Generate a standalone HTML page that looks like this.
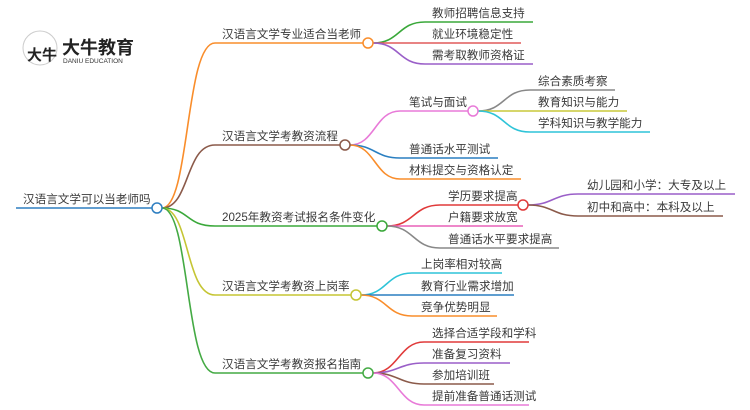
<!DOCTYPE html>
<html><head><meta charset="utf-8"><style>
html,body{margin:0;padding:0;background:#fff;}
svg{display:block;}
text{font-family:"Liberation Sans","Noto Sans CJK SC",sans-serif;font-size:11.6px;fill:#3a3a3a;}
path{fill:none;stroke-width:1.6;}
circle.n{fill:#fff;stroke-width:1.5;}
</style></head><body>
<svg width="750" height="410" viewBox="0 0 750 410" xmlns="http://www.w3.org/2000/svg">
<!-- logo -->
<circle cx="40" cy="48" r="17" fill="#fff" stroke="#ccc" stroke-width="1"/>
<path d="M25 40 A17 17 0 0 1 55 40 Z" fill="#d9262c" stroke="none"/>
<text x="27" y="60" style="font-size:15px;font-weight:bold;fill:#222">大牛</text>
<text x="62" y="54" style="font-size:18px;font-weight:bold;fill:#222">大牛教育</text>
<text x="63" y="63" style="font-size:6.5px;fill:#333">DANIU EDUCATION</text>

<!-- root -->
<path d="M16 208 L152 208" stroke="#2f7fc1"/>
<text x="23" y="203">汉语言文学可以当老师吗</text>

<!-- level1 -->
<path d="M162 208 C190 208 185 43 215 43 L363 43" stroke="#f98d2b"/>
<path d="M162 208 C190 208 185 145 215 145 L340 145" stroke="#8b5a4a"/>
<path d="M162 208 C190 208 185 226 215 226 L377 226" stroke="#3aa83a"/>
<path d="M162 208 C190 208 185 295 215 295 L351 295" stroke="#c5c534"/>
<path d="M162 208 C190 208 185 373 215 373 L363 373" stroke="#44aa44"/>
<text x="222" y="38">汉语言文学专业适合当老师</text>
<text x="222" y="140">汉语言文学考教资流程</text>
<text x="222" y="221">2025年教资考试报名条件变化</text>
<text x="222" y="290">汉语言文学考教资上岗率</text>
<text x="222" y="368">汉语言文学考教资报名指南</text>

<!-- node1 children -->
<path d="M373 43 C400 43 398 22 425 22 L533 22" stroke="#3aa83a"/>
<path d="M373 43 L521 43" stroke="#e05a5a"/>
<path d="M373 43 C400 43 398 64 425 64 L533 64" stroke="#9a5fc8"/>
<text x="432" y="17">教师招聘信息支持</text>
<text x="432" y="38">就业环境稳定性</text>
<text x="432" y="59">需考取教师资格证</text>

<!-- node2 children -->
<path d="M350 145 C375 145 375 111 400 111 L468 111" stroke="#e87ad8"/>
<path d="M350 145 C375 145 375 158 400 158 L498 158" stroke="#2a7fc1"/>
<path d="M350 145 C375 145 375 179 400 179 L521 179" stroke="#f98d2b"/>
<text x="409" y="106">笔试与面试</text>
<text x="409" y="153">普通话水平测试</text>
<text x="409" y="174">材料提交与资格认定</text>
<path d="M478 111 C505 111 503 90 530 90 L615 90" stroke="#888"/>
<path d="M478 111 L627 111" stroke="#c8c83a"/>
<path d="M478 111 C505 111 503 132 530 132 L650 132" stroke="#2fc4d8"/>
<text x="538" y="85">综合素质考察</text>
<text x="538" y="106">教育知识与能力</text>
<text x="538" y="127">学科知识与教学能力</text>

<!-- node3 children -->
<path d="M387 226 C414 226 413 205 440 205 L518 205" stroke="#e03a3a"/>
<path d="M387 226 L523 226" stroke="#e860b8"/>
<path d="M387 226 C414 226 413 248 440 248 L559 248" stroke="#888"/>
<text x="448" y="200">学历要求提高</text>
<text x="448" y="221">户籍要求放宽</text>
<text x="448" y="243">普通话水平要求提高</text>
<path d="M528 205 C553 205 553 194 578 194 L735 194" stroke="#9a5fc8"/>
<path d="M528 205 C553 205 553 216 578 216 L723 216" stroke="#8b5a4a"/>
<text x="587" y="189">幼儿园和小学：大专及以上</text>
<text x="587" y="211">初中和高中：本科及以上</text>

<!-- node4 children -->
<path d="M361 295 C387 295 386 273 412 273 L502 273" stroke="#2fc4d8"/>
<path d="M361 295 L514 295" stroke="#2a7fc1"/>
<path d="M361 295 C387 295 386 316 412 316 L497 316" stroke="#f98d2b"/>
<text x="421" y="268">上岗率相对较高</text>
<text x="421" y="290">教育行业需求增加</text>
<text x="421" y="311">竞争优势明显</text>

<!-- node5 children -->
<path d="M373 373 C398 373 399 342 424 342 L529 342" stroke="#e03a3a"/>
<path d="M373 373 C398 373 399 363 424 363 L510 363" stroke="#9a5fc8"/>
<path d="M373 373 C398 373 399 384 424 384 L494 384" stroke="#8b5a4a"/>
<path d="M373 373 C398 373 399 405 424 405 L529 405" stroke="#e87ad8"/>
<text x="432" y="337">选择合适学段和学科</text>
<text x="432" y="358">准备复习资料</text>
<text x="432" y="379">参加培训班</text>
<text x="432" y="400">提前准备普通话测试</text>

<!-- circles -->
<circle class="n" cx="157" cy="208" r="5" stroke="#2f7fc1"/>
<circle class="n" cx="368" cy="43" r="5" stroke="#f98d2b"/>
<circle class="n" cx="345" cy="145" r="5" stroke="#8b5a4a"/>
<circle class="n" cx="382" cy="226" r="5" stroke="#3aa83a"/>
<circle class="n" cx="356" cy="295" r="5" stroke="#c5c534"/>
<circle class="n" cx="368" cy="373" r="5" stroke="#44aa44"/>
<circle class="n" cx="473" cy="111" r="5" stroke="#e87ad8"/>
<circle class="n" cx="523" cy="205" r="5" stroke="#e03a3a"/>
</svg>
</body></html>
